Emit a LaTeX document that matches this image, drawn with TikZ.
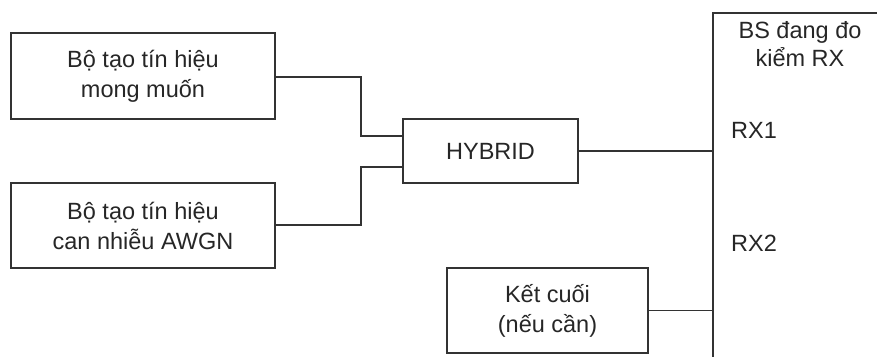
\documentclass[tikz,border=0pt]{standalone}
\usepackage{fontspec}
\setmainfont{Liberation Sans}
\begin{document}
\begin{tikzpicture}[x=1pt,y=-1pt,
  wire/.style={draw=black!80, line width=1.3pt},
  box/.style={draw=black!80, line width=1.3pt, rectangle, inner sep=0pt,
    align=center, font=\fontsize{23.5}{30}\selectfont, text=black!85},
  lbl/.style={font=\fontsize{23.5}{28}\selectfont, text=black!85, inner sep=0pt, align=center}]
  \useasboundingbox (0,0) rectangle (877,357);

  % signal sources
  \node[box, minimum width=264pt, minimum height=86pt] (gen1) at (143,76)
    {Bộ tạo tín hiệu\\mong muốn};
  \node[box, minimum width=264pt, minimum height=85pt] (gen2) at (143,225.5)
    {Bộ tạo tín hiệu\\can nhiễu AWGN};

  % combiner
  \node[box, minimum width=175pt, minimum height=64pt] (hyb) at (490.5,151)
    {HYBRID};

  % termination
  \node[box, minimum width=201pt, minimum height=85pt] (term) at (547.5,310.5)
    {Kết cuối\\(nếu cần)};

  % base station under test (open frame)
  \coordinate (bstr) at (877,13);
  \coordinate (bstl) at (713,13);
  \coordinate (bsbl) at (713,357);
  \draw[wire] (bstr) -- (bstl) -- (bsbl);
  \node[lbl] (bs) at (800,44) {BS đang đo\\kiểm RX};
  \node[lbl, anchor=west] (rx1) at (731,130) {RX1};
  \node[lbl, anchor=west] (rx2) at (731,243) {RX2};

  % connections
  \coordinate (j1) at (361,136);
  \coordinate (j2) at (361,167);
  \draw[wire] (gen1.east |- 0,77) -| (j1) -- (j1 -| hyb.west);
  \draw[wire] (gen2.east |- 0,225) -| (j2) -- (j2 -| hyb.west);
  \draw[wire] (hyb.east) -- (hyb.east -| bsbl);
  \draw[wire] (term.east) -- (term.east -| bsbl);
\end{tikzpicture}
\end{document}
